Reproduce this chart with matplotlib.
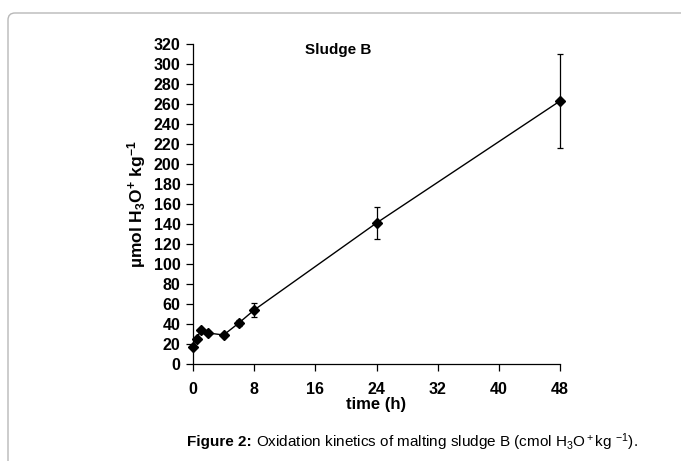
import matplotlib
matplotlib.use("Agg")
import matplotlib.pyplot as plt
from matplotlib.patches import FancyBboxPatch
from matplotlib.transforms import IdentityTransform

plt.rcParams['font.family'] = ['Liberation Sans', 'DejaVu Sans']
plt.rcParams['mathtext.fontset'] = 'custom'
plt.rcParams['mathtext.rm'] = 'Liberation Sans'
plt.rcParams['mathtext.bf'] = 'Liberation Sans:bold'
plt.rcParams['mathtext.it'] = 'Liberation Sans:italic'

time_h = [0, 0.5, 1, 2, 4, 6, 8, 24, 48]
h3o = [17, 25, 34, 31, 29, 41, 54, 141, 263]
err = [0, 0, 0, 0, 0, 3, 7, 16, 47]

x_ticks = [0, 8, 16, 24, 32, 40, 48]
y_ticks = list(range(0, 321, 20))

fig = plt.figure(figsize=(6.81, 4.61), dpi=100)
ax = fig.add_axes([193 / 681, 1 - 364 / 461, 367 / 681, 320 / 461])

ax.errorbar(time_h, h3o, yerr=err, fmt='-', color='black', lw=1.0,
            marker='D', markersize=5.5, ecolor='black', elinewidth=0.9,
            capsize=2.5, capthick=0.9, clip_on=False, zorder=3)

ax.set_xlim(0, 48)
ax.set_ylim(0, 320)
ax.set_xticks(x_ticks)
ax.set_yticks(y_ticks)
ax.spines['top'].set_visible(False)
ax.spines['right'].set_visible(False)
for s in ['left', 'bottom']:
    ax.spines[s].set_linewidth(0.9)
ax.tick_params(direction='out', length=5, width=0.9, labelsize=11.5)
ax.tick_params(axis='x', pad=8)
ax.tick_params(axis='y', pad=4)
for lab in ax.get_xticklabels() + ax.get_yticklabels():
    lab.set_fontweight('bold')

ax.set_xlabel('time (h)', fontsize=12, fontweight='bold', labelpad=0)
ax.set_ylabel(r'µmol H$_\mathbf{3}$O$^\mathbf{+}$ kg$^\mathbf{-1}$',
              fontsize=12.5, fontweight='bold', labelpad=4)
ax.text(0.395, 0.98, 'Sludge B', transform=ax.transAxes, ha='center',
        va='center', fontsize=11, fontweight='bold')

# caption: bold part then regular part
fig.canvas.draw()
r = fig.canvas.get_renderer()
t1 = fig.text(187 / 681, 1 - 442 / 461, 'Figure 2:', fontsize=11,
              fontweight='bold', va='center', ha='left')
w = t1.get_window_extent(renderer=r).width
fig.text((187 + w + 4) / 681, 1 - 442 / 461,
         r'Oxidation kinetics of malting sludge B (cmol H$_3$O$^+$kg $^{-1}$).',
         fontsize=11, va='center', ha='left')

frame = FancyBboxPatch((8, -30), 720, 461 - 13 + 30,
                       boxstyle='round,pad=0,rounding_size=7',
                       transform=IdentityTransform(), fill=False,
                       edgecolor='#b8b8b8', lw=1.0, clip_on=False)
fig.add_artist(frame)

fig.savefig('out.png', dpi=100)
